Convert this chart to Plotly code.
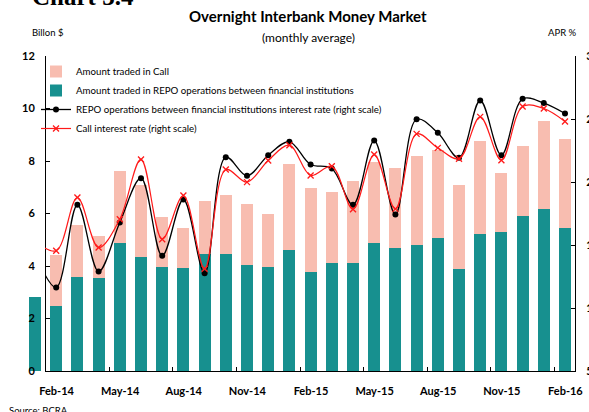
import plotly.graph_objects as go

# ---------------- data ----------------
months = ["Jan-14", "Feb-14", "Mar-14", "Apr-14", "May-14", "Jun-14", "Jul-14", "Aug-14",
          "Sep-14", "Oct-14", "Nov-14", "Dec-14", "Jan-15", "Feb-15", "Mar-15", "Apr-15",
          "May-15", "Jun-15", "Jul-15", "Aug-15", "Sep-15", "Oct-15", "Nov-15", "Dec-15",
          "Jan-16", "Feb-16"]

repo_amount = [2.81, 2.47, 3.57, 3.54, 4.89, 4.33, 3.95, 3.92, 4.46, 4.46, 4.04, 3.96, 4.61,
               3.77, 4.11, 4.11, 4.88, 4.69, 4.80, 5.07, 3.89, 5.22, 5.31, 5.90, 6.17, 5.46]

call_amount = [0.00, 1.94, 2.01, 1.60, 2.72, 2.77, 1.91, 1.54, 2.02, 2.24, 2.32, 2.02, 3.28,
               3.20, 2.71, 3.13, 3.08, 3.04, 3.39, 3.35, 3.20, 3.54, 2.23, 2.67, 3.35, 3.38]

repo_rate = [14.3, 11.63, 18.19, 12.90, 16.79, 20.30, 14.14, 18.61, 12.76, 21.97, 20.49, 22.13,
             23.19, 21.39, 21.07, 18.19, 23.29, 17.42, 24.98, 23.90, 21.92, 26.47, 22.13, 26.60,
             26.26, 25.44]

call_rate = [15.3, 14.54, 18.77, 14.80, 17.05, 21.79, 15.46, 18.93, 13.11, 20.99, 19.99, 21.71,
             22.92, 20.52, 21.25, 17.84, 22.18, 17.87, 23.82, 22.71, 21.85, 25.17, 21.73, 25.99,
             25.83, 24.80]

tick_labels = ["Feb-14", "May-14", "Aug-14", "Nov-14", "Feb-15", "May-15", "Aug-15",
               "Nov-15", "Feb-16"]

left_ticks = [0, 2, 4, 6, 8, 10, 12]
right_ticks = [5, 10, 15, 20, 25, 30]

# ---------------- layout helpers ----------------
W, H = 589, 412
x_idx = list(range(len(months)))
px0, step = 35.0, 21.2          # pixel of first month centre, pixels per month


def px_to_idx(p):
    return (p - px0) / step


def fx(p):
    return p / W


def fy(p):
    return 1 - p / H


TEAL = "#17908f"
PINK = "#f8bdb0"
FONT = "Lato"

fig = go.Figure()

fig.add_trace(go.Bar(
    x=x_idx, y=repo_amount, name="Amount traded in REPO operations between financial institutions",
    marker=dict(color=TEAL, line=dict(width=0)), width=0.57, legendrank=2,
    hovertext=months, xaxis="x", yaxis="y"))
fig.add_trace(go.Bar(
    x=x_idx, y=call_amount, name="Amount traded in Call",
    marker=dict(color=PINK, line=dict(width=0)), width=0.57, legendrank=1,
    hovertext=months, xaxis="x", yaxis="y"))

fig.add_trace(go.Scatter(
    x=x_idx, y=repo_rate, name="REPO operations between financial institutions interest rate (right scale)",
    mode="lines+markers", line=dict(color="black", width=1.3, shape="spline", smoothing=1),
    marker=dict(color="black", size=6), legendrank=3, hovertext=months,
    xaxis="x2", yaxis="y2"))
fig.add_trace(go.Scatter(
    x=x_idx, y=call_rate, name="Call interest rate (right scale)",
    mode="lines+markers", line=dict(color="#ff1a1a", width=1.2, shape="spline", smoothing=1),
    marker=dict(color="#ff1a1a", size=6, symbol="x-thin", line=dict(color="#ff1a1a", width=1.3)),
    legendrank=4, hovertext=months, xaxis="x2", yaxis="y2"))

ydom = [fy(371), fy(56)]
tick_font = dict(family=FONT, size=11, color="black", weight="bold")

fig.update_layout(
    width=W, height=H,
    margin=dict(l=0, r=0, t=0, b=0),
    paper_bgcolor="white", plot_bgcolor="rgba(0,0,0,0)",
    barmode="stack", bargap=0,
    font=dict(family=FONT, color="black"),
    showlegend=True,
    legend=dict(x=fx(36), y=fy(57), xanchor="left", yanchor="top", traceorder="normal",
                bgcolor="rgba(0,0,0,0)", font=dict(family=FONT, size=9.7, color="black"),
                tracegroupgap=0, itemwidth=30),
    xaxis=dict(domain=[fx(25), fx(575)], range=[px_to_idx(25), px_to_idx(575)],
               visible=False, anchor="y", fixedrange=True, automargin=False),
    yaxis=dict(domain=ydom, range=[0, 12], anchor="free", position=fx(45), automargin=False,
               showline=True, linecolor="black", linewidth=1, showgrid=False, zeroline=False,
               ticks="inside", ticklen=4, tickcolor="black", tickvals=left_ticks,
               ticklabelstandoff=8, tickfont=tick_font, fixedrange=True),
    xaxis2=dict(domain=[fx(45), fx(575)], range=[px_to_idx(45), px_to_idx(575)],
                anchor="y2", showline=True, linecolor="black", linewidth=1, automargin=False,
                showgrid=False, zeroline=False, ticks="inside", ticklen=4, tickcolor="black",
                tickvals=[months.index(m) - 0.5 for m in tick_labels], ticktext=tick_labels,
                ticklabelshift=int(round(step / 2)), ticklabelstandoff=10, tickfont=tick_font,
                fixedrange=True),
    yaxis2=dict(domain=ydom, range=[5, 30], anchor="x2", side="right", automargin=False,
                showline=True, linecolor="black", linewidth=1, showgrid=False, zeroline=False,
                ticks="inside", ticklen=4, tickcolor="black", tickvals=right_ticks,
                ticklabelstandoff=8, tickfont=tick_font, fixedrange=True),
)

annotations = [
    dict(text="<b>Chart 3.4</b>", x=fx(30), y=fy(-3), xanchor="left", yanchor="middle",
         font=dict(family="Liberation Serif", size=25, color="black")),
    dict(text="<b>Overnight Interbank Money Market</b>", x=fx(308), y=fy(16), xanchor="center",
         yanchor="middle", font=dict(family=FONT, size=15, color="black")),
    dict(text="(monthly average)", x=fx(308), y=fy(38), xanchor="center", yanchor="middle",
         font=dict(family=FONT, size=12, color="black")),
    dict(text="Billon $", x=fx(30), y=fy(33), xanchor="left", yanchor="middle",
         font=dict(family=FONT, size=9.5, color="black")),
    dict(text="APR %", x=fx(546), y=fy(33), xanchor="left", yanchor="middle",
         font=dict(family=FONT, size=9.5, color="black")),
    dict(text="Source: BCRA", x=fx(7), y=fy(410), xanchor="left", yanchor="middle",
         font=dict(family=FONT, size=9.5, color="black")),
]
for a in annotations:
    a.update(xref="paper", yref="paper", showarrow=False)
fig.update_layout(annotations=annotations)

fig.write_html("out.html", config={"displayModeBar": False},
               post_script="document.body.style.margin='0';document.body.style.overflow='hidden';")
